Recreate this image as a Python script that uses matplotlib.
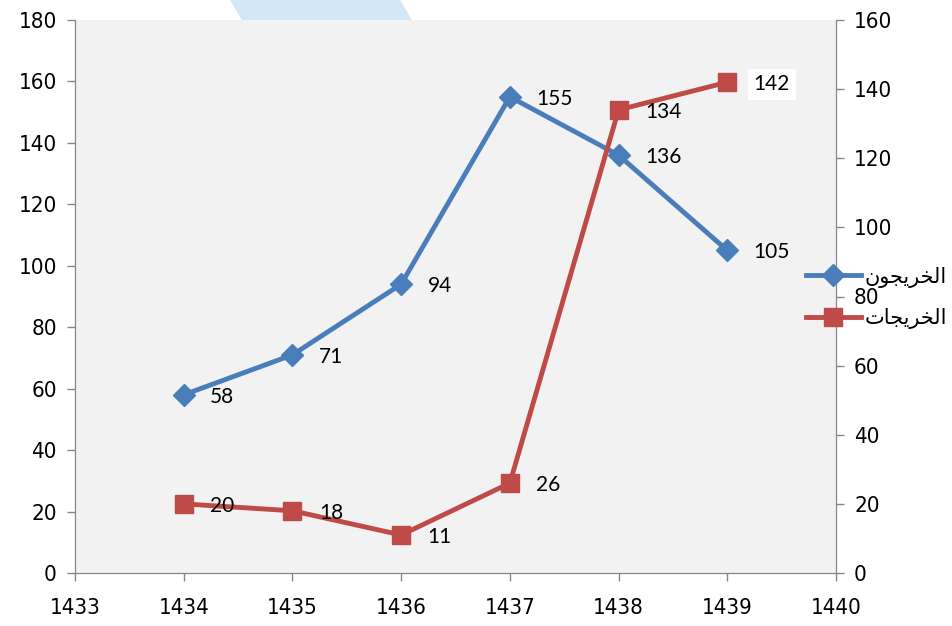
import matplotlib.pyplot as plt
from matplotlib.patches import Polygon

years = [1434, 1435, 1436, 1437, 1438, 1439]
male = [58, 71, 94, 155, 136, 105]
female = [20, 18, 11, 26, 134, 142]
names = ["الخريجون", "الخريجات"]

# matplotlib has no arabic shaping: build presentation forms by hand
# letter: (isolated, final, initial, medial)
forms = {
    "ا": (0xFE8D, 0xFE8E, None, None),
    "ل": (0xFEDD, 0xFEDE, 0xFEDF, 0xFEE0),
    "خ": (0xFEA5, 0xFEA6, 0xFEA7, 0xFEA8),
    "ر": (0xFEAD, 0xFEAE, None, None),
    "ي": (0xFEF1, 0xFEF2, 0xFEF3, 0xFEF4),
    "ج": (0xFE9D, 0xFE9E, 0xFE9F, 0xFEA0),
    "و": (0xFEED, 0xFEEE, None, None),
    "ن": (0xFEE5, 0xFEE6, 0xFEE7, 0xFEE8),
    "ت": (0xFE95, 0xFE96, 0xFE97, 0xFE98),
}

def shape(s):
    out = []
    for i, ch in enumerate(s):
        f = forms[ch]
        prev = s[i-1] if i > 0 else None
        nxt = s[i+1] if i < len(s)-1 else None
        join_prev = prev is not None and forms[prev][2] is not None
        join_next = nxt is not None and f[2] is not None
        if join_prev and join_next:
            c = f[3]
        elif join_prev:
            c = f[1]
        elif join_next:
            c = f[2]
        else:
            c = f[0]
        out.append(chr(c))
    return "".join(out[::-1])

blue = "#4a7ebb"
red = "#be4b48"
grey = "#868686"
labfont = ["Lato", "DejaVu Sans"]

fig = plt.figure(figsize=(9.52, 6.26), dpi=100)
# light blue logo piece peeking out above the plot
fig.patches.append(Polygon([[230/952, 1], [400/952, 1], [413/952, 1-22/626], [243/952, 1-22/626]],
                           closed=True, transform=fig.transFigure, fc="#d3e8f6", ec="none", zorder=-1))

ax = fig.add_axes([75/952, 53/626, (836-75)/952, (573-20)/626])
ax.set_facecolor("#f2f2f2")
ax2 = ax.twinx()

l1, = ax.plot(years, male, color=blue, lw=3.5, marker="D", ms=11, zorder=3)
l2, = ax2.plot(years, female, color=red, lw=3.5, marker="s", ms=13, zorder=3)

for x, y in zip(years, male):
    ax.annotate(str(y), (x, y), xytext=(19, -1.5), textcoords="offset points",
                va="center", fontsize=15, family=labfont)
for x, y in zip(years, female):
    box = dict(fc="white", ec="none", pad=4) if y == max(female) else None
    ax2.annotate(str(y), (x, y), xytext=(19, -1.5), textcoords="offset points",
                 va="center", fontsize=15, family=labfont, bbox=box)

ax.set_xlim(1433, 1440)
ax.set_ylim(0, 180)
ax2.set_ylim(0, 160)
ax.set_xticks(range(1433, 1441))
ax.set_yticks(range(0, 181, 20))
ax2.set_yticks(range(0, 161, 20))

for a in (ax, ax2):
    for s in a.spines.values():
        s.set_color(grey)
    a.spines["top"].set_visible(False)
    a.tick_params(colors=grey, length=6, width=1, labelsize=16, labelcolor="black")
    for t in a.get_xticklabels() + a.get_yticklabels():
        t.set_family("DejaVu Sans")
        t.set_stretch("condensed")
ax.tick_params(axis="x", pad=12)
ax.tick_params(axis="y", pad=7)
ax2.tick_params(axis="y", pad=7)

leg = fig.legend([l1, l2], [shape(n) for n in names], loc="center left",
                 bbox_to_anchor=(798/952, 1 - 298/626), frameon=False,
                 prop={"family": "DejaVu Sans", "size": 15}, handlelength=2.6,
                 handletextpad=0.2, labelspacing=1.0, borderaxespad=0)

fig.savefig("out.png", dpi=100)
